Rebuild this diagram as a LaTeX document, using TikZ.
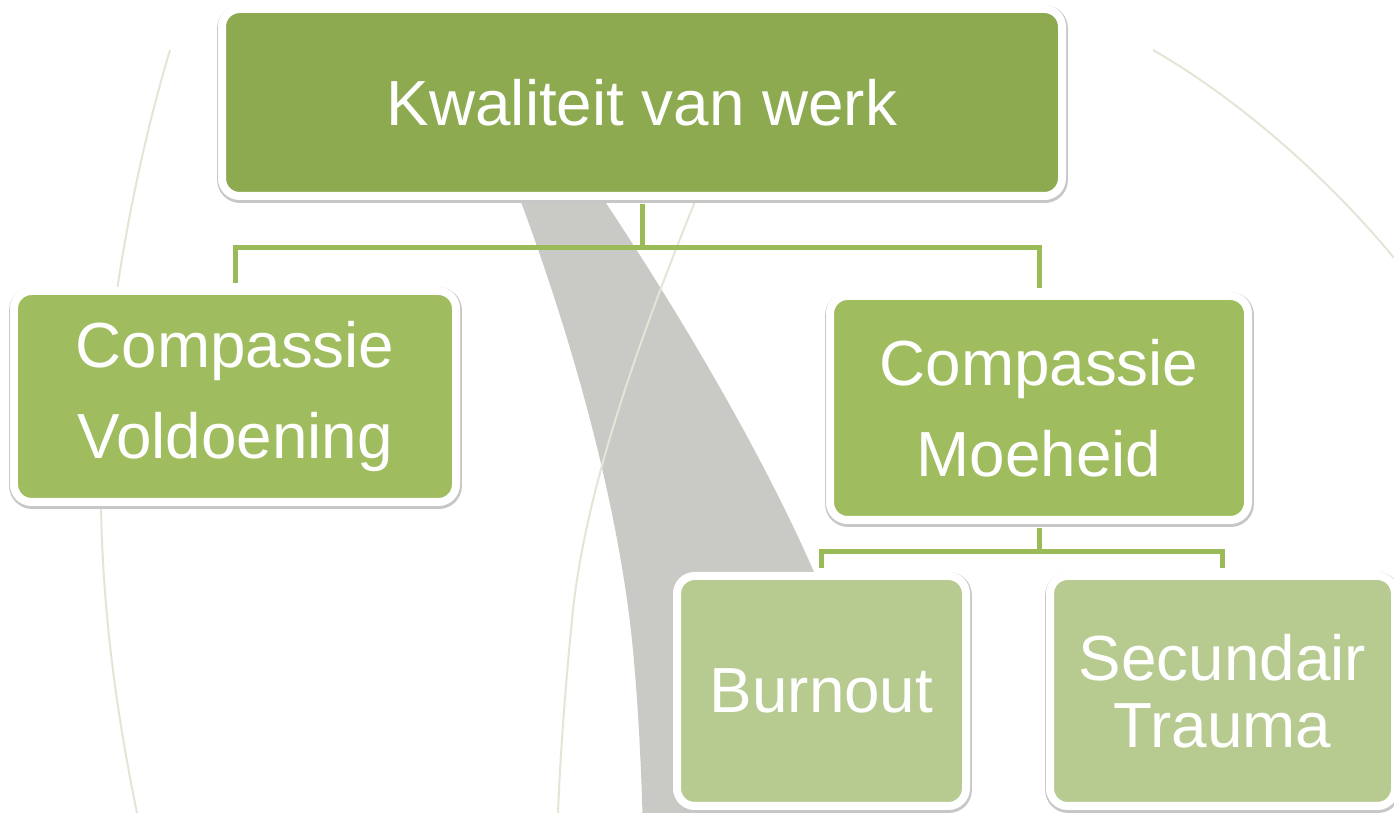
\documentclass[tikz,border=0pt]{standalone}
\usepackage{fontspec}
\setmainfont{Liberation Sans}
\definecolor{topgreen}{RGB}{141,170,80}
\definecolor{midgreen}{RGB}{159,189,94}
\definecolor{lightgreen}{RGB}{183,203,145}
\definecolor{linkgreen}{RGB}{155,187,89}
\definecolor{swooshgray}{RGB}{201,201,197}
\definecolor{arcgray}{RGB}{226,230,214}
\newcommand{\pxu}{0.02cm}

\begin{document}
\begin{tikzpicture}[x=\pxu,y=-\pxu,
  box/.style={rounded corners=10pt,draw=white,line width=0.16cm,text=white,
    inner sep=0pt,align=center,font=\fontsize{36.3}{51.5}\selectfont,
    preaction={draw=black!22,line width=0.215cm,transform canvas={yshift=-0.9pt,xshift=0.3pt}}},
  link/.style={draw=linkgreen,line width=0.1cm,shorten >=0.08cm},
  arc/.style={draw=arcgray,line width=0.04cm}]
  \useasboundingbox (0,0) rectangle (1394,813);
  % background
  \fill[swooshgray] (505,160) .. controls (560,300) and (615,480) .. (632,640)
    .. controls (638,700) and (641,760) .. (643,830) -- (880,830) -- (830,610)
    .. controls (770,460) and (660,280) .. (570,150) -- cycle;
  \draw[arc] (170,50) .. controls (125,200) and (98,380) .. (101,507)
    .. controls (103,620) and (118,720) .. (137,813);
  \draw[arc] (1153,50) .. controls (1240,100) and (1330,180) .. (1394,258);
  \draw[arc] (712,160) .. controls (650,310) and (585,480) .. (572,620)
    .. controls (565,690) and (560,760) .. (558,813);
  % boxes
  \node[box,fill=topgreen,minimum width=840*\pxu,minimum height=187*\pxu] (kwaliteit) at (642,102.5) {Kwaliteit van werk};
  \node[box,fill=midgreen,minimum width=442*\pxu,minimum height=211*\pxu] (voldoening) at (235,396.5) {Compassie\\Voldoening};
  \node[box,fill=midgreen,minimum width=418*\pxu,minimum height=224*\pxu] (moeheid) at (1039,408) {Compassie\\Moeheid};
  \node[box,fill=lightgreen,minimum width=289*\pxu,minimum height=230*\pxu] (burnout) at (821.5,691) {Burnout};
  \node[box,fill=lightgreen,minimum width=345*\pxu,minimum height=230*\pxu,font=\fontsize{36.3}{38}\selectfont] (trauma) at (1222.5,691) {Secundair\\Trauma};
  % connectors
  \path (kwaliteit.south) ++(0,48) coordinate (j1);
  \path (moeheid.south) ++(0,28) coordinate (j2);
  \draw[link,shorten <=0.08cm,shorten >=0pt] (kwaliteit.south) -- (j1);
  \draw[link] (j1) -| (voldoening.north);
  \draw[link] (j1) -| (moeheid.north);
  \draw[link,shorten <=0.08cm,shorten >=0pt] (moeheid.south) -- (j2);
  \draw[link] (j2) -| (burnout.north);
  \draw[link] (j2) -| (trauma.north);
\end{tikzpicture}
\end{document}
